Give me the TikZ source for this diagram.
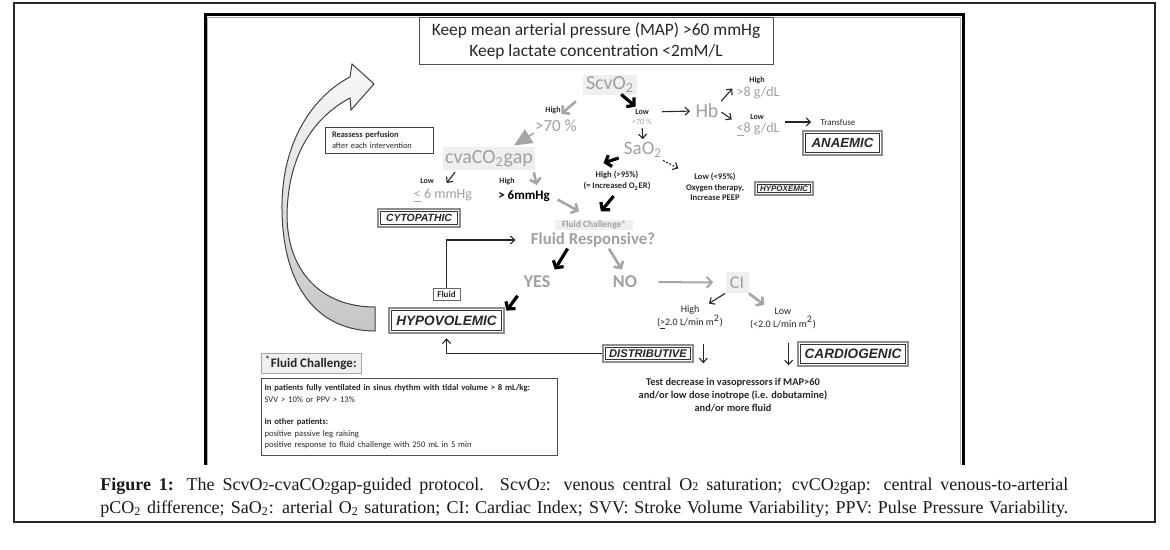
\documentclass[tikz,border=0pt]{standalone}
\usepackage{fontspec}
\setmainfont{Carlito}
\newfontfamily\dxfont{Liberation Sans}
\newfontfamily\capfont{Liberation Serif}
\usepackage{tikz}
\usetikzlibrary{arrows.meta}
\usetikzlibrary{calc}
\definecolor{fadegray}{HTML}{A0A0A0}
\definecolor{softbg}{HTML}{EFEFEF}
\definecolor{framegray}{HTML}{8E8E8E}
\newcommand{\fsz}[2]{\fontsize{#1}{#2}\selectfont}
\newcommand{\dxf}[1]{\dxfont\bfseries\itshape\fontsize{#1}{#1}\selectfont}
\newcommand{\smtwo}{{\fontsize{6}{6}\selectfont 2}}

\begin{document}
\begin{tikzpicture}[x=0.5pt, y=-0.5pt,
    lab/.style={inner sep=0.5pt, text=black!85, font=\fsz{4}{4.8}\bfseries},
    gtxt/.style={inner sep=0.5pt, text=fadegray},
    soft/.style={fill=softbg, text=fadegray, inner sep=0pt},
    dx/.style={draw=framegray, line width=1.3pt, fill=white, inner sep=0pt, text=black!85,
      path picture={\draw[black!80, line width=0.45pt] ([shift={(1.35pt,-1.35pt)}]path picture bounding box.north west) rectangle ([shift={(-1.35pt,1.35pt)}]path picture bounding box.south east);}},
    thinarr/.style={draw=black!85, line width=0.55pt, -{Straight Barb[length=2.2pt,width=4pt]}},
    blkarr/.style={draw=black, line width=1.6pt, -{Straight Barb[length=2.5pt,width=6pt]}},
    grayarr/.style={draw=gray!70, line width=1.3pt, -{Straight Barb[length=2.5pt,width=5.5pt]}},
    dasharr/.style={thinarr, dash pattern=on 1pt off 0.8pt},
    wedgearr/.style={draw=gray!70, line width=0.8pt, -{Triangle[length=9pt,width=8pt]}},
    recirc/.style={draw=black!75, line width=0.5pt, top color=gray!5, bottom color=gray!45}]
    \useasboundingbox (0,0) rectangle (1170,550);
    \draw [black!85, line width=0.6pt] (14,3) rectangle (1155,522);
    \draw [line width=1.5pt] (205,465) -- (205,15) -- (963,15) -- (963,465);
    \draw [gray!60, line width=0.7pt] (207.5,465) -- (207.5,17.5) -- (960.5,17.5) -- (960.5,465);

    \draw [recirc] (375,331) .. controls (320,331) and (283,290) .. (282,210)
        .. controls (281,140) and (315,95) .. (350,77) -- (352,64) -- (374,84) -- (351,110) -- (350,98)
        .. controls (318,115) and (288,150) .. (287,215) .. controls (287,270) and (320,307) .. (375,307) -- cycle;

    \node [draw=black!70, line width=0.5pt, minimum width=177pt, minimum height=23.5pt, inner sep=0pt, align=center, font=\fsz{8.7}{10.5}, text=black!85] (goal) at (596,41.5) {Keep mean arterial pressure (MAP) >60 mmHg\\Keep lactate concentration <2mM/L};
    \node [draw=black!75, line width=0.5pt, text width=47pt, inner xsep=3.5pt, inner ysep=2.5pt, align=left, font=\fsz{4.2}{5.5}, text=black!85] (reass) at (379,140.5) {\textbf{Reassess perfusion}\\after each intervention};

    \node [soft, minimum width=27pt, minimum height=10pt, font=\fsz{10}{12}] (scvo) at (610,85) {ScvO\textsubscript{2}};
    \node [lab] (low1) at (642,112) {Low};
    \node [gtxt, font=\fsz{4}{4.8}] (lt70) at (642,122) {<70 \%};
    \node [gtxt, font=\fsz{10}{12}] (hb) at (707,111) {Hb};
    \node [lab] (hi8) at (757,80) {High};
    \node [gtxt, font=\fsz{7}{8}] (gt8) at (758,93) {>8 g/dL};
    \node [lab] (lo8) at (757,117) {Low};
    \node [gtxt, font=\fsz{7}{8}] (le8) at (758,130) {\underline{<}8 g/dL};
    \node [lab, font=\fsz{4.5}{5}] (transf) at (838,122) {Transfuse};
    \node [dx, minimum width=39.5pt, minimum height=12pt, font=\dxf{6.6}] (anaemic) at (842.5,143) {ANAEMIC};
    \node [gtxt, font=\fsz{9.5}{11}] (sao) at (643,150) {SaO\textsubscript{2}};
    \node [lab, align=center, font=\fsz{4.3}{5.4}\bfseries] (hio2) at (617,181) {High (>95\%)\\(= Increased O\textsubscript{2}ER)};
    \node [lab, align=center, font=\fsz{4.3}{5.4}\bfseries] (loo2) at (715,187) {Low (<95\%)\\Oxygen therapy,\\Increase PEEP};
    \node [dx, line width=1pt, minimum width=29pt, minimum height=6.5pt, font=\dxf{4}] (hypox) at (784,188.5) {HYPOXEMIC};

    \node [lab] (hi70) at (553,110) {High};
    \node [gtxt, font=\fsz{8.5}{10}] (gt70) at (556,126) {>70 \%};
    \node [soft, minimum width=46pt, minimum height=11.5pt, font=\fsz{10}{12}] (cva) at (489,158.5) {cvaCO\textsubscript{2}gap};
    \node [lab] (locva) at (427,181) {Low};
    \node [gtxt, font=\fsz{7}{8}] (le6) at (443,196) {\underline{<} 6 mmHg};
    \node [lab] (hicva) at (507,181) {High};
    \node [lab, font=\fsz{6.5}{8}\bfseries, text=black] (gt6) at (524,196) {> 6mmHg};
    \node [dx, minimum width=41pt, minimum height=9pt, font=\dxf{5.2}] (cyto) at (419,218) {CYTOPATHIC};

    \node [soft, minimum width=39pt, minimum height=5pt, font=\fsz{4.7}{5}\bfseries] (fc) at (594,225) {Fluid Challenge*};
    \node [gtxt, font=\fsz{8.4}{10}\bfseries] (fr) at (593,240) {Fluid Responsive?};
    \node [gtxt, font=\fsz{9}{10}\bfseries] (yes) at (537,282) {YES};
    \node [gtxt, font=\fsz{9}{10}\bfseries] (no) at (625,282) {NO};
    \node [soft, minimum width=11.5pt, minimum height=10.5pt, font=\fsz{9}{10}] (ci) at (737,282.5) {CI};
    \node [dx, minimum width=57.5pt, minimum height=12.5pt, font=\dxf{6.8}] (hypo) at (446.5,320.5) {HYPOVOLEMIC};
    \node [draw=black!60, line width=0.45pt, minimum width=13.5pt, minimum height=6pt, inner sep=0pt, font=\fsz{4.5}{5}\bfseries, text=black!85] (fluid) at (446.5,294) {Fluid};
    \node [lab, align=center, font=\fsz{5}{6.5}] (hici) at (690,318) {High\\(\underline{>}2.0 L/min m\textsuperscript{2})};
    \node [lab, align=center, font=\fsz{5}{6.5}] (loci) at (783,318) {Low\\(<2.0 L/min m\textsuperscript{2})};
    \node [dx, minimum width=45pt, minimum height=8.5pt, font=\dxf{5.6}] (distr) at (648,353.5) {DISTRIBUTIVE};
    \node [dx, minimum width=55pt, minimum height=12pt, font=\dxf{6.8}] (cardio) at (853,354) {CARDIOGENIC};
    \node [lab, align=center, font=\fsz{5.2}{6.5}\bfseries] (test) at (733,395) {Test decrease in vasopressors if MAP>60\\and/or low dose inotrope (i.e. dobutamine)\\and/or more fluid};

    \node [draw=gray!70, line width=0.5pt, fill=softbg, minimum width=50pt, minimum height=10pt, inner sep=0pt, font=\fsz{6.5}{7}\bfseries, text=black!85] (fctitle) at (311,363) {\textsuperscript{*}Fluid Challenge:};
    \node [draw=black!70, line width=0.5pt, anchor=north west, text width=145pt, minimum height=38.5pt, inner xsep=1.5pt, inner ysep=0pt, align=left, font=\fsz{4.3}{5.7}, text=black!85] (fcnote) at (261,378) {\textbf{In patients fully ventilated in sinus rhythm with tidal volume > 8 mL/kg:}\\SVV > 10\% or PPV > 13\%\\[5.7pt]\textbf{In other patients:}\\positive passive leg raising\\positive response to fluid challenge with 250 mL in 5 min};

    \draw [blkarr] ($(scvo)!0.35!(low1)$) -- ($(scvo)!0.8!(low1)$);
    \draw [thinarr, shorten <=6pt, shorten >=2pt] (low1.east) -- (hb.west);
    \draw [thinarr, shorten <=1pt, shorten >=2pt] (hb.north east) -- (gt8.north west);
    \draw [thinarr, shorten <=1pt, shorten >=2pt] (hb.east) -- (le8.north west);
    \draw [thinarr, shorten <=2pt, shorten >=4pt] (le8.east |- transf.west) -- (transf.west);
    \draw [thinarr, shorten <=1pt, shorten >=1pt] (lt70.south) -- (sao.north);
    \draw [blkarr] ($(sao)!0.4!(hio2.north west)$) -- ($(sao)!0.65!(hio2.north west)$);
    \draw [dasharr] ($(sao)!0.48!(loo2.north west)$) -- ($(sao)!0.85!(loo2.north west)$);
    \draw [blkarr] ($(hio2.south)!0.15!(fc.north)$) -- ($(hio2.south)!0.7!(fc.north)$);
    \draw [grayarr] ($(scvo.south west)!0.25!(gt70.north)$) -- ($(scvo.south west)!0.8!(gt70.north)$);
    \draw [wedgearr, shorten >=1pt] (gt70.south west) -- ($(cva.north)!0.5!(cva.north east)$);
    \draw [thinarr, shorten <=1pt, shorten >=3pt] (cva.-160) -- (le6.north);
    \draw [grayarr, shorten <=1pt, shorten >=2pt] (cva.-15) -- ($(gt6.north)!0.5!(gt6.north east)$);
    \draw [grayarr] ($(gt6.east)!0.15!(fc.north)$) -- ($(gt6.east)!0.65!(fc.north)$);
    \draw [thinarr, shorten >=7pt] (fluid.north) |- (fr.west);
    \draw [blkarr, shorten >=3pt] ($(fr.south west)!0.6!(fr.south)$) -- (yes.north east);
    \draw [grayarr, shorten >=3pt] ($(fr.south)!0.25!(fr.south east)$) -- (no.north);
    \draw [grayarr, line width=1pt, shorten <=10pt, shorten >=6pt] (no.east) -- (ci.west);
    \draw [blkarr, shorten <=4pt, shorten >=1pt] (yes.south west) -- ($(hypo.north east)!0.4!(hypo.east)$);
    \draw [thinarr, shorten >=2pt] (distr.west) -| (hypo.south);
    \draw [thinarr, shorten >=1pt] (ci.south west) -- ($(hici.north)!0.5!(hici.north east)$);
    \draw [grayarr, shorten >=1pt] (ci.south east) -- ($(loci.north west)!0.5!(loci.north)$);
    \draw [thinarr] ([xshift=4.5pt]distr.north east) -- ([xshift=4.5pt]distr.south east);
    \draw [thinarr, shorten <=1pt, shorten >=1pt] ([xshift=-4pt]cardio.north west) -- ([xshift=-4pt]cardio.south west);

    \node [anchor=north west, inner sep=0pt, align=left, font=\capfont\fsz{9}{11.5}, text=black!90] (cap) at (100,478) {\makebox[484pt][s]{\textbf{Figure 1:} The ScvO\smtwo-cvaCO\smtwo gap-guided protocol. ScvO\smtwo: venous central O\smtwo\ saturation; cvCO\smtwo gap: central venous-to-arterial}\\\makebox[484pt][s]{pCO\textsubscript{2} difference; SaO\textsubscript{2}: arterial O\textsubscript{2} saturation; CI: Cardiac Index; SVV: Stroke Volume Variability; PPV: Pulse Pressure Variability.}};
\end{tikzpicture}
\end{document}
